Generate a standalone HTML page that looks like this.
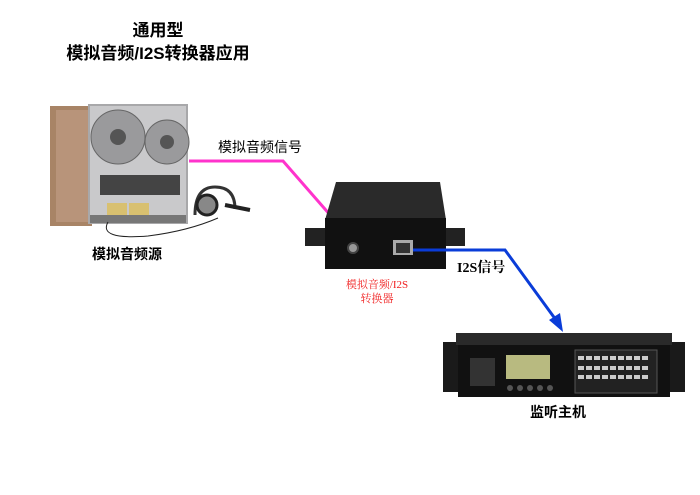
<!DOCTYPE html>
<html><head><meta charset="utf-8"><style>
html,body{margin:0;padding:0;background:#fff;}
svg{display:block;}
text{font-family:"Liberation Sans","Noto Sans CJK SC",sans-serif;}
text.sf{font-family:"Liberation Serif","Noto Serif CJK SC",serif;}
</style></head><body>
<svg width="700" height="495" viewBox="0 0 700 495" xmlns="http://www.w3.org/2000/svg">
<rect width="700" height="495" fill="#fff"/>
<text x="158" y="36" font-size="17" font-weight="bold" text-anchor="middle">通用型</text>
<text x="158" y="59" font-size="17" font-weight="bold" text-anchor="middle">模拟音频/I2S转换器应用</text>

<!-- tape deck -->
<rect x="50" y="106" width="42" height="120" fill="#a88466"/>
<rect x="56" y="110" width="32" height="112" fill="#b8947a"/>
<rect x="88" y="104" width="100" height="120" fill="#a8a8aa"/>
<rect x="90" y="106" width="96" height="116" fill="#c9c9cb"/>
<circle cx="118" cy="137" r="27" fill="#9a9a9c" stroke="#666"/>
<circle cx="118" cy="137" r="8" fill="#555"/>
<circle cx="167" cy="142" r="22" fill="#9a9a9c" stroke="#666"/>
<circle cx="167" cy="142" r="7" fill="#555"/>
<rect x="100" y="175" width="80" height="20" fill="#444"/>
<rect x="107" y="203" width="20" height="12" fill="#d8c070"/>
<rect x="129" y="203" width="20" height="12" fill="#d8c070"/>
<rect x="90" y="215" width="96" height="8" fill="#777"/>
<path d="M195,215 q0,-28 20,-28 q20,0 20,22" fill="none" stroke="#333" stroke-width="3"/>
<circle cx="207" cy="205" r="10" fill="#888" stroke="#222" stroke-width="3"/>
<path d="M225,205 L250,210" stroke="#222" stroke-width="4"/>
<path d="M108,222 q-10,18 40,14 q40,-5 70,-18" fill="none" stroke="#222" stroke-width="1"/>
<text x="92" y="259" font-size="14" font-weight="bold">模拟音频源</text>

<!-- pink connector -->
<text x="218" y="152" font-size="14">模拟音频信号</text>
<polyline points="189,161 283,161 345,232" fill="none" stroke="#ff33cc" stroke-width="3"/>
<polygon points="352,241 337,232 348,224" fill="#ff33cc"/>

<!-- converter -->
<polygon points="305,228 325,228 325,246 305,246" fill="#222"/>
<polygon points="445,228 465,228 465,246 445,246" fill="#222"/>
<polygon points="336,182 440,182 446,220 325,220" fill="#2a2a2a"/>
<rect x="325" y="218" width="121" height="51" fill="#111"/>
<circle cx="353" cy="248" r="5" fill="#999" stroke="#444" stroke-width="2"/>
<rect x="393" y="240" width="20" height="15" fill="#aaa"/>
<rect x="396" y="243" width="14" height="10" fill="#333"/>
<polyline points="413,250 505,250 556,320" fill="none" stroke="#0a3cd8" stroke-width="3"/>
<polygon points="563,332 549,320 560,313" fill="#0a3cd8"/>
<text class="sf" x="377" y="288" font-size="11" fill="#f02020" text-anchor="middle">模拟音频/I2S</text>
<text class="sf" x="377" y="302" font-size="11" fill="#f02020" text-anchor="middle">转换器</text>
<text class="sf" x="457" y="272" font-size="14" font-weight="bold">I2S信号</text>

<!-- monitor host -->
<rect x="443" y="342" width="242" height="50" fill="#1a1a1a"/>
<rect x="456" y="333" width="216" height="12" fill="#2a2a2a"/>
<rect x="458" y="345" width="212" height="52" fill="#111"/>
<rect x="470" y="358" width="25" height="28" fill="#333"/>
<rect x="506" y="355" width="44" height="24" fill="#b8ba80"/>
<rect x="575" y="350" width="82" height="43" fill="#222" stroke="#555"/>
<g fill="#ccc">
<rect x="578" y="356" width="6" height="4"/><rect x="586" y="356" width="6" height="4"/><rect x="594" y="356" width="6" height="4"/><rect x="602" y="356" width="6" height="4"/><rect x="610" y="356" width="6" height="4"/><rect x="618" y="356" width="6" height="4"/><rect x="626" y="356" width="6" height="4"/><rect x="634" y="356" width="6" height="4"/><rect x="642" y="356" width="6" height="4"/>
<rect x="578" y="366" width="6" height="4"/><rect x="586" y="366" width="6" height="4"/><rect x="594" y="366" width="6" height="4"/><rect x="602" y="366" width="6" height="4"/><rect x="610" y="366" width="6" height="4"/><rect x="618" y="366" width="6" height="4"/><rect x="626" y="366" width="6" height="4"/><rect x="634" y="366" width="6" height="4"/><rect x="642" y="366" width="6" height="4"/>
<rect x="578" y="375" width="6" height="4"/><rect x="586" y="375" width="6" height="4"/><rect x="594" y="375" width="6" height="4"/><rect x="602" y="375" width="6" height="4"/><rect x="610" y="375" width="6" height="4"/><rect x="618" y="375" width="6" height="4"/><rect x="626" y="375" width="6" height="4"/><rect x="634" y="375" width="6" height="4"/><rect x="642" y="375" width="6" height="4"/>
</g>
<g fill="#555"><circle cx="510" cy="388" r="3"/><circle cx="520" cy="388" r="3"/><circle cx="530" cy="388" r="3"/><circle cx="540" cy="388" r="3"/><circle cx="550" cy="388" r="3"/></g>
<text x="558" y="417" font-size="14" font-weight="bold" text-anchor="middle">监听主机</text>
</svg>
</body></html>
